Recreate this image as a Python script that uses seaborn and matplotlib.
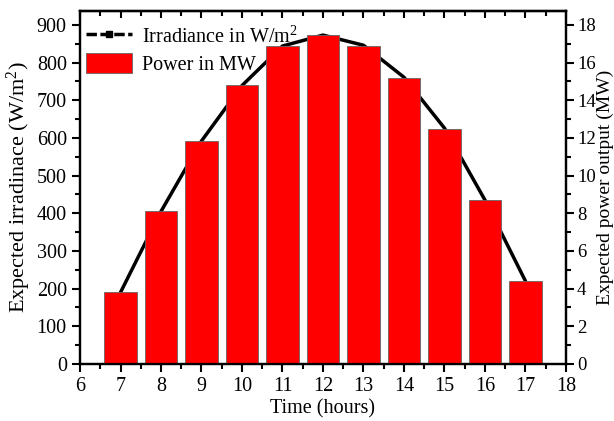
import numpy as np
import pandas as pd
import seaborn as sns
import matplotlib.pyplot as plt
from matplotlib.lines import Line2D
from matplotlib.patches import Patch
from matplotlib.ticker import MultipleLocator

# hourly data
hours = [7, 8, 9, 10, 11, 12, 13, 14, 15, 16, 17]
irradiance = [190, 405, 592, 739, 844, 873, 846, 761, 626, 435, 220]   # W/m2
power = [3.8, 8.1, 11.85, 14.8, 16.9, 17.45, 16.9, 15.2, 12.5, 8.7, 4.4]  # MW

dat = pd.DataFrame({'hour': hours, 'irr': irradiance, 'mw': power})

sns.set_theme(style='ticks')
plt.rcParams['font.family'] = ['Liberation Serif', 'DejaVu Serif']
plt.rcParams['mathtext.fontset'] = 'custom'
plt.rcParams['mathtext.rm'] = 'Liberation Serif'
plt.rcParams['mathtext.it'] = 'Liberation Serif'
plt.rcParams['axes.linewidth'] = 1.6
for k in ['axes.edgecolor', 'axes.labelcolor', 'xtick.color', 'ytick.color', 'text.color']:
    plt.rcParams[k] = 'black'

fig = plt.figure(figsize=(6.14, 4.21), dpi=100)
ax = fig.add_axes([0.1303, 0.1354, 0.7915, 0.8385])
ax2 = ax.twinx()

# irradiance line (behind the bars)
sns.lineplot(data=dat, x='hour', y='irr', color='black', linewidth=2.5, ax=ax)

# power bars on the right axis
sns.barplot(data=dat, x='hour', y='mw', native_scale=True, width=0.8,
            color='red', saturation=1, edgecolor='#666666', linewidth=0.6, ax=ax2)

ax.set_xlim(6, 18)
ax.set_ylim(0, 937)
ax2.set_ylim(0, 18.74)

ax.xaxis.set_major_locator(MultipleLocator(1))
ax.xaxis.set_minor_locator(MultipleLocator(0.5))
ax.yaxis.set_major_locator(MultipleLocator(100))
ax.yaxis.set_minor_locator(MultipleLocator(50))
ax2.yaxis.set_major_locator(MultipleLocator(2))
ax2.yaxis.set_minor_locator(MultipleLocator(1))

ax.tick_params(axis='x', which='both', direction='out', top=False, labelsize=14.5, width=1.5)
ax.tick_params(axis='y', which='both', direction='out', labelsize=14.5, width=1.5)
ax.tick_params(which='major', length=6)
ax.tick_params(which='minor', length=3.5)
ax2.tick_params(axis='y', which='both', direction='out', labelsize=13.5, width=1.5, pad=2)
ax2.tick_params(which='major', length=6)
ax2.tick_params(which='minor', length=3.5)

# top ticks point inwards
sec = ax.secondary_xaxis('top')
sec.xaxis.set_major_locator(MultipleLocator(1))
sec.xaxis.set_minor_locator(MultipleLocator(0.5))
sec.tick_params(which='both', direction='in', labeltop=False, width=1.5)
sec.tick_params(which='major', length=5)
sec.tick_params(which='minor', length=3.5)

ax.set_xlabel('Time (hours)', fontsize=14.5, labelpad=2)
ax.set_ylabel('Expected irradinace (W/m$^2$)', fontsize=16, labelpad=3)
ax2.set_ylabel('Expected power output (MW)', fontsize=14, ha='center', va='center')
ax2.yaxis.set_label_coords(1.08, 0.5)
ax2.set_xlabel('')

handles = [Line2D([0], [0], color='black', lw=2.5, marker='s', markersize=5, linestyle='--', dashes=(3, 1)),
           Patch(facecolor='red', edgecolor='#666666', linewidth=0.6)]
ax2.legend(handles, ['Irradiance in W/m$^2$', 'Power in MW'], loc='upper left',
           bbox_to_anchor=(0.0, 0.975),
           frameon=False, fontsize=14.5, handlelength=2.3, handleheight=1.1,
           borderaxespad=0.1, borderpad=0.2, labelspacing=0.3, handletextpad=0.5)

fig.savefig('out.png', dpi=100)
